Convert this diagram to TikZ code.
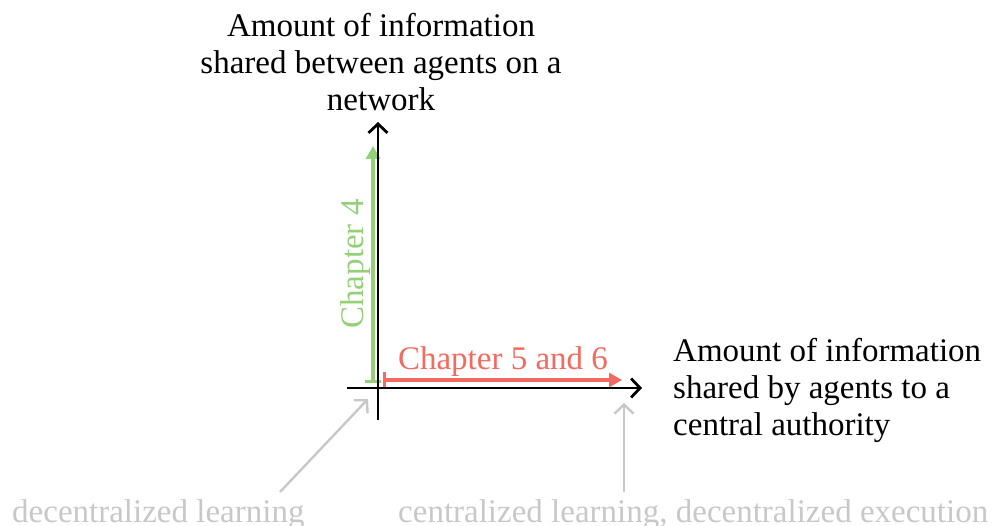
\documentclass[tikz,border=0pt]{standalone}
\usepackage{fontspec}
\setmainfont{Liberation Serif}
\usetikzlibrary{arrows.meta}
\definecolor{chgreen}{RGB}{147,208,120}
\definecolor{chred}{RGB}{242,106,96}
\definecolor{hintgray}{RGB}{200,200,200}
\begin{document}
\begin{tikzpicture}[x=1pt,y=-1pt,
  lbl/.style={inner sep=0pt, font=\fontsize{33}{37}\selectfont},
  axisline/.style={line width=2.8pt, -{Straight Barb[length=9pt,width=19pt]}},
  chapline/.style={line width=3.2pt, {Bar[width=16pt]}-{Triangle[length=13pt,width=14pt]}},
  hintline/.style={hintgray, line width=2.4pt, -{Straight Barb[length=9pt,width=19pt]}}
]
\useasboundingbox (0,0) rectangle (998,526);

% coordinates
\coordinate (O) at (378,388);
\coordinate (xs) at (347,388);
\coordinate (xe) at (642,388);
\coordinate (ys) at (378,420);
\coordinate (ye) at (378,122);
\coordinate (gs) at (373,383);
\coordinate (ge) at (373,146);
\coordinate (rs) at (383,380);
\coordinate (re) at (622,380);
\coordinate (h1s) at (280,492);
\coordinate (h1e) at (368,399);
\coordinate (h2s) at (624,492);
\coordinate (h2e) at (624,403);

% labels (multi-line nodes: base = baseline of last line)
\node[lbl, align=center, anchor=base] (ytitle) at (381,111)
  {Amount of information\\shared between agents on a\\network};
\node[lbl, align=left, anchor=base west] (xtitle) at (673,435)
  {Amount of information\\shared by agents to a\\central authority};
\node[lbl, text=chred, anchor=base] (redlbl) at (503,369) {Chapter 5 and 6};
\node[lbl, text=chgreen, rotate=90, anchor=base] (greenlbl) at (363,264) {Chapter 4};
\node[lbl, text=hintgray, anchor=base west] (declbl) at (12,522) {decentralized learning};
\node[lbl, text=hintgray, anchor=base west] (ctdelbl) at (398,522) {centralized learning, decentralized execution};

% chapter arrows
\draw[chapline, chgreen] (gs) -- (ge);
\draw[chapline, chred] (rs) -- (re);

% axes
\draw[axisline] (xs) -- (xe);
\draw[axisline] (ys) -- (ye);

% hint arrows
\draw[hintline] (h1s) -- (h1e);
\draw[hintline] (h2s) -- (h2e);
\end{tikzpicture}
\end{document}
